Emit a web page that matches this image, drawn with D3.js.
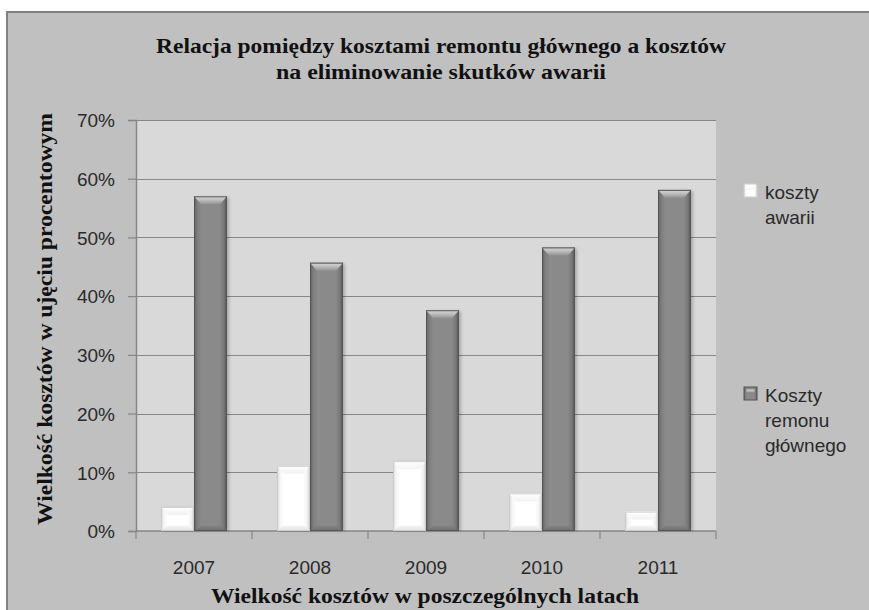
<!DOCTYPE html>
<html>
<head>
<meta charset="utf-8">
<script src="https://cdn.jsdelivr.net/npm/d3@7"></script>
<style>
  html, body { margin: 0; padding: 0; background: #ffffff; }
  svg { display: block; }
</style>
</head>
<body>
<svg id="chart" width="869" height="610"></svg>
<script>
// Data: cost shares per year
const years = ["2007", "2008", "2009", "2010", "2011"];
const kosztyAwarii = [0.041, 0.111, 0.119, 0.064, 0.033];
const kosztyRemontu = [0.570, 0.457, 0.376, 0.483, 0.581];
const seriesNames = ["koszty awarii", "Koszty remonu głównego"];
const legendLines = [["koszty", "awarii"], ["Koszty", "remonu", "głównego"]];
const yTicks = [0, 0.1, 0.2, 0.3, 0.4, 0.5, 0.6, 0.7];
const titleLines = ["Relacja pomiędzy kosztami remontu głównego a kosztów", "na eliminowanie skutków awarii"];
const xTitle = "Wielkość kosztów w poszczególnych latach";
const yTitle = "Wielkość kosztów w ujęciu procentowym";

const svg = d3.select("#chart");
const W = 869, H = 610;
const plot = { left: 136, right: 716, top: 120, bottom: 531 };

const defs = svg.append("defs");

// Bevel gradients for the two bar styles
function hGrad(id, stops) {
  const g = defs.append("linearGradient").attr("id", id)
    .attr("x1", "0%").attr("x2", "100%").attr("y1", "0%").attr("y2", "0%");
  stops.forEach(([o, c]) => g.append("stop").attr("offset", o).attr("stop-color", c));
}
function vGrad(id, stops) {
  const g = defs.append("linearGradient").attr("id", id)
    .attr("x1", "0%").attr("x2", "0%").attr("y1", "0%").attr("y2", "100%");
  stops.forEach(([o, c]) => g.append("stop").attr("offset", o).attr("stop-color", c));
}
hGrad("darkBody", [["0%", "#5c5c5c"], ["9%", "#7c7c7c"], ["22%", "#8a8a8a"], ["78%", "#8a8a8a"], ["91%", "#777777"], ["100%", "#4e4e4e"]]);
vGrad("darkTop", [["0%", "#d6d6d6"], ["40%", "#c2c2c2"], ["100%", "#929292"]]);
vGrad("darkBottom", [["0%", "#858585"], ["100%", "#6e6e6e"]]);
hGrad("whiteBody", [["0%", "#d8d8d8"], ["10%", "#f6f6f6"], ["22%", "#ffffff"], ["80%", "#ffffff"], ["92%", "#f0f0f0"], ["100%", "#cfcfcf"]]);
vGrad("whiteTop", [["0%", "#ffffff"], ["100%", "#f2f2f2"]]);
vGrad("whiteBottom", [["0%", "#f4f4f4"], ["100%", "#e2e2e2"]]);

const shadow = defs.append("filter").attr("id", "shadow")
  .attr("x", "-30%").attr("y", "-10%").attr("width", "160%").attr("height", "120%");
shadow.append("feGaussianBlur").attr("stdDeviation", 1.6);

// Background: page frame and plot area
svg.append("rect").attr("x", 0).attr("y", 0).attr("width", W).attr("height", H).attr("fill", "#ffffff");
svg.append("rect").attr("x", 7).attr("y", 12).attr("width", W + 10).attr("height", H + 10)
  .attr("fill", "#c0c0c0").attr("stroke", "#808080").attr("stroke-width", 2);
svg.append("rect").attr("x", plot.left).attr("y", plot.top)
  .attr("width", plot.right - plot.left).attr("height", plot.bottom - plot.top)
  .attr("fill", "#d9d9d9");

// Scales
const x = d3.scaleBand().domain(years).range([plot.left, plot.right]).paddingInner(0).paddingOuter(0);
const groupW = 66;
const xs = d3.scaleBand().domain([0, 1])
  .range([(x.bandwidth() - groupW) / 2, (x.bandwidth() + groupW) / 2]).padding(0);
const y = d3.scaleLinear().domain([0, 0.7]).range([plot.bottom, plot.top]);

// Grid lines
svg.append("g").selectAll("line").data(yTicks.slice(1)).join("line")
  .attr("x1", plot.left).attr("x2", plot.right)
  .attr("y1", d => Math.round(y(d)) + 0.5).attr("y2", d => Math.round(y(d)) + 0.5)
  .attr("stroke", "#868686").attr("stroke-width", 1.2);

// Y axis
const yAxis = svg.append("g").attr("transform", `translate(${plot.left},0)`)
  .call(d3.axisLeft(y).tickValues(yTicks).tickFormat(d3.format(".0%")).tickSize(8).tickPadding(13));
yAxis.select(".domain").attr("stroke", "#868686").attr("stroke-width", 1.5);
yAxis.selectAll(".tick line").attr("stroke", "#868686").attr("stroke-width", 1.2);
yAxis.selectAll(".tick text").attr("font-family", "Liberation Sans, Arial, sans-serif")
  .attr("font-size", 19).attr("fill", "#2a2a2a").attr("dy", "0.36em");

// X axis (ticks at band boundaries)
const xAxisG = svg.append("g").attr("transform", `translate(0,${plot.bottom})`);
xAxisG.append("line").attr("x1", plot.left).attr("x2", plot.right).attr("y1", 0).attr("y2", 0)
  .attr("stroke", "#868686").attr("stroke-width", 1.5);
const boundaries = years.map(d => x(d)).concat([x(years[years.length - 1]) + x.bandwidth()]);
xAxisG.selectAll("line.tk").data(boundaries).join("line").attr("class", "tk")
  .attr("x1", d => d).attr("x2", d => d).attr("y1", 0).attr("y2", 8)
  .attr("stroke", "#868686").attr("stroke-width", 1.2);
xAxisG.selectAll("text").data(years).join("text")
  .attr("x", d => x(d) + x.bandwidth() / 2).attr("y", 43)
  .attr("text-anchor", "middle")
  .attr("font-family", "Liberation Sans, Arial, sans-serif").attr("font-size", 19)
  .attr("fill", "#2a2a2a").text(d => d);

// Bars with bevelled tops
const rows = years.map((yr, i) => ({ yr, vals: [kosztyAwarii[i], kosztyRemontu[i]] }));
const styles = [
  { body: "url(#whiteBody)", top: "url(#whiteTop)", bottom: "url(#whiteBottom)", stroke: "#cdcdcd" },
  { body: "url(#darkBody)", top: "url(#darkTop)", bottom: "url(#darkBottom)", stroke: "#555555" }
];

const barsG = svg.append("g");
rows.forEach(r => {
  r.vals.forEach((v, s) => {
    const x0 = x(r.yr) + xs(s);
    const w = xs.bandwidth();
    const y0 = y(v), y1 = y(0);
    const h = y1 - y0;
    const st = styles[s];
    const bevel = Math.min(8, h / 2), inset = Math.min(7, w / 4);
    const g = barsG.append("g");
    g.append("rect").attr("x", x0 + 2).attr("y", y0 + 1).attr("width", w).attr("height", h - 1)
      .attr("fill", "rgba(0,0,0,0.22)").attr("filter", "url(#shadow)");
    g.append("rect").attr("x", x0).attr("y", y0).attr("width", w).attr("height", h)
      .attr("fill", st.body);
    g.append("path")
      .attr("d", `M${x0},${y0}L${x0 + w},${y0}L${x0 + w - inset},${y0 + bevel}L${x0 + inset},${y0 + bevel}Z`)
      .attr("fill", st.top);
    g.append("path")
      .attr("d", `M${x0},${y1}L${x0 + w},${y1}L${x0 + w - inset},${y1 - bevel * 0.7}L${x0 + inset},${y1 - bevel * 0.7}Z`)
      .attr("fill", st.bottom);
    g.append("rect").attr("x", x0 + 0.5).attr("y", y0 + 0.5).attr("width", w - 1).attr("height", h - 1)
      .attr("fill", "none").attr("stroke", st.stroke).attr("stroke-width", 1);
  });
});

// Legend
const legendY = [184, 387];
const legend = svg.append("g");
seriesNames.forEach((name, s) => {
  const st = styles[s];
  const g = legend.append("g").attr("aria-label", name);
  g.append("rect").attr("x", 744).attr("y", legendY[s]).attr("width", 13).attr("height", 13)
    .attr("fill", st.body).attr("stroke", st.stroke);
  g.append("rect").attr("x", 746.5).attr("y", legendY[s] + 2.5).attr("width", 8).attr("height", 3)
    .attr("fill", st.top);
  const t = g.append("text").attr("x", 765).attr("y", legendY[s] + 15)
    .attr("font-family", "Liberation Sans, Arial, sans-serif").attr("font-size", 19).attr("fill", "#2a2a2a");
  legendLines[s].forEach((ln, i) => {
    t.append("tspan").attr("x", 765).attr("dy", i === 0 ? 0 : 25).text(ln);
  });
});

// Titles
const serif = "Liberation Serif, Times New Roman, serif";
svg.append("text").attr("x", 441).attr("y", 53).attr("text-anchor", "middle")
  .attr("font-family", serif).attr("font-weight", "bold").attr("font-size", 22).attr("fill", "#111")
  .attr("textLength", 570).attr("lengthAdjust", "spacingAndGlyphs").text(titleLines[0]);
svg.append("text").attr("x", 441).attr("y", 79).attr("text-anchor", "middle")
  .attr("font-family", serif).attr("font-weight", "bold").attr("font-size", 20).attr("fill", "#111")
  .attr("textLength", 330).attr("lengthAdjust", "spacingAndGlyphs").text(titleLines[1]);

svg.append("text").attr("x", 425).attr("y", 603).attr("text-anchor", "middle")
  .attr("font-family", serif).attr("font-weight", "bold").attr("font-size", 20).attr("fill", "#111")
  .attr("textLength", 428).attr("lengthAdjust", "spacingAndGlyphs").text(xTitle);

svg.append("text").attr("transform", "translate(52,319) rotate(-90)").attr("text-anchor", "middle")
  .attr("font-family", serif).attr("font-weight", "bold").attr("font-size", 20).attr("fill", "#111")
  .attr("textLength", 412).attr("lengthAdjust", "spacingAndGlyphs").text(yTitle);
</script>
</body>
</html>
